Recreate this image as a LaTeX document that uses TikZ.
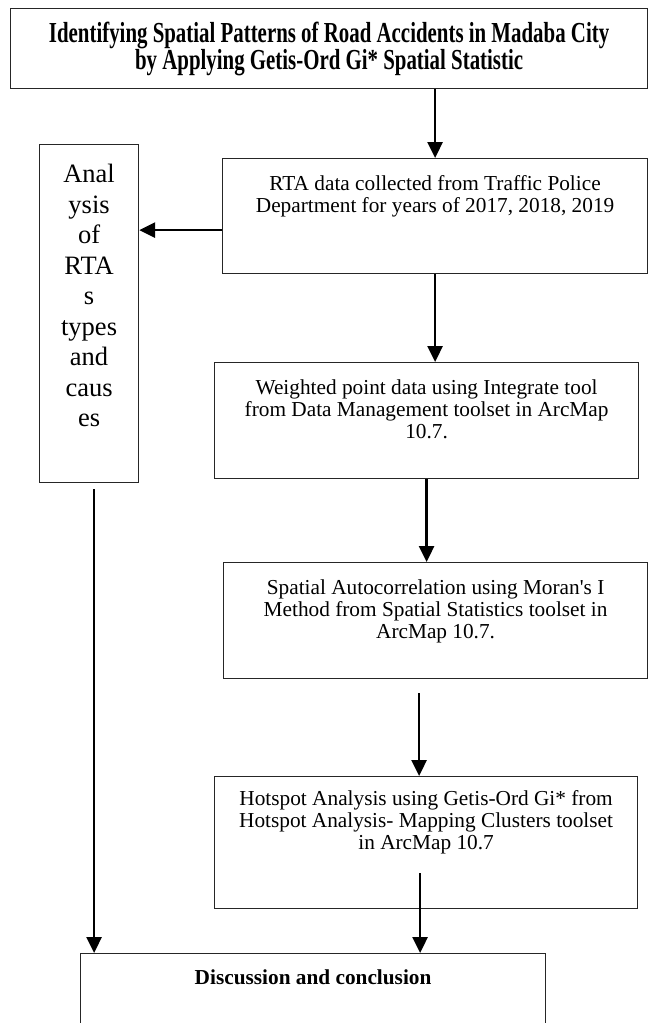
\documentclass[tikz,border=0pt]{standalone}
\usepackage{fontspec}
\setmainfont{Liberation Serif}
\newfontfamily\titlefont{Liberation Serif}[FakeStretch=0.72]
\usetikzlibrary{positioning,arrows.meta}
\newcommand{\boxtext}[4][17pt]{\parbox[c][#3][t]{#2}{\centering\vspace*{#1}#4}}

\begin{document}
\begin{tikzpicture}[
    x=1pt, y=-1pt,
    font=\fontsize{21.3}{22}\selectfont,
    basebox/.style={draw=black!85, line width=1.2pt, inner sep=0pt},
    titlebox/.style={basebox, align=center, anchor=north west,
      font=\titlefont\bfseries\fontsize{29}{27}\selectfont},
    stepbox/.style={basebox, anchor=north west},
    flow/.style={-{Triangle[length=16pt, width=15pt]}, draw=black, line width=2.6pt}
  ]
    \useasboundingbox (0,0) rectangle (651,1023);

    \node[titlebox, minimum width=637pt, minimum height=80pt] (title) at (10,8) {
      Identifying Spatial Patterns of Road Accidents in Madaba City\\
      by Applying Getis-Ord Gi* Spatial Statistic
    };

    \node[stepbox] (analysis) at (39,144) {\fontsize{26.5}{30.5}\selectfont
      \boxtext[20pt]{99pt}{338pt}{Anal\\ysis\\of\\RTA\\s\\types\\and\\caus\\es}};

    \node[stepbox] (rta) at (222,158) {\boxtext{425pt}{115pt}{
      RTA data collected from Traffic Police\\
      Department for years of 2017, 2018, 2019}};

    \node[stepbox] (weighted) at (214,362) {\boxtext{424pt}{116pt}{
      Weighted point data using Integrate tool\\
      from Data Management toolset in ArcMap\\
      10.7.}};

    \node[stepbox] (moran) at (223,562) {\boxtext{424pt}{116pt}{
      Spatial Autocorrelation using Moran\textquotesingle s I\\
      Method from Spatial Statistics toolset in\\
      ArcMap 10.7.}};

    \node[stepbox] (hotspot) at (214,776) {\boxtext[14pt]{423pt}{132pt}{
      Hotspot Analysis using Getis-Ord Gi* from\\
      Hotspot Analysis- Mapping Clusters toolset\\
      in ArcMap 10.7}};

    % bottom edge runs off the page
    \node[stepbox] (discussion) at (80,953) {\boxtext[16pt]{465pt}{110pt}{
      \bfseries Discussion and conclusion}};

    \coordinate (rtaout) at ([yshift=-14pt]rta.west);
    \coordinate (moranout) at ([yshift=-14pt]moran.south);
    \coordinate (hotin) at ([xshift=-7pt]hotspot.north);
    \coordinate (hotout) at ([xshift=-6pt, yshift=36pt]hotspot.south);
    \coordinate (analysisout) at ([xshift=5pt, yshift=-6pt]analysis.south);

    \draw[flow] (title.south -| rta.north) -- (rta.north);
    \draw[flow] (rtaout) -- (rtaout -| analysis.east);
    \draw[flow] (rta.south) -- (rta.south |- weighted.north);
    \draw[flow] (weighted.south) -- (weighted.south |- moran.north);
    \draw[flow] (moranout -| hotin) -- (hotin);
    \draw[flow] (hotout) -- (hotout |- discussion.north);
    \draw[flow] (analysisout) -- (analysisout |- discussion.north);
  \end{tikzpicture}
\end{document}
